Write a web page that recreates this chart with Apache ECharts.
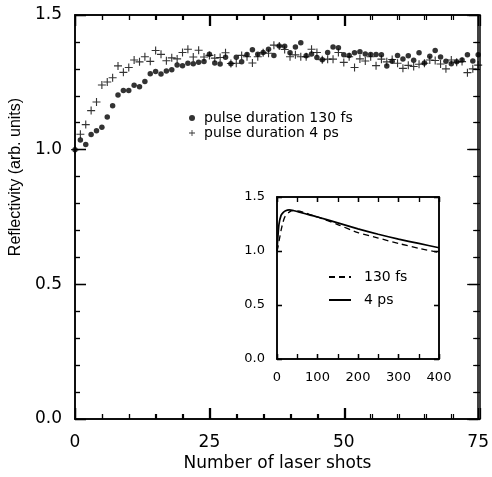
<!DOCTYPE html>
<html>
<head>
<meta charset="utf-8">
<script src="https://cdn.jsdelivr.net/npm/echarts@6/dist/echarts.min.js"></script>
<style>html,body{margin:0;padding:0;background:#fff}#c{width:492px;height:477px}</style>
</head>
<body>
<div id="c"></div>
<script>
// Main plot: reflectivity vs number of laser shots
var shots = [];
for (var i = 0; i <= 75; i++) shots.push(i);
var fs130 = [1.00,1.036,1.019,1.056,1.07,1.083,1.121,1.163,1.203,1.22,1.22,1.239,1.234,1.253,1.282,1.29,1.281,1.292,1.297,1.314,
  1.312,1.321,1.319,1.325,1.327,1.354,1.322,1.318,1.343,1.319,1.343,1.326,1.353,1.371,1.354,1.361,1.373,1.35,1.385,1.384,
  1.36,1.381,1.397,1.349,1.355,1.342,1.334,1.361,1.381,1.378,1.352,1.35,1.36,1.364,1.355,1.353,1.353,1.352,1.311,1.328,
  1.35,1.337,1.349,1.332,1.36,1.322,1.347,1.368,1.344,1.328,1.319,1.326,1.333,1.352,1.329,1.352];
var ps4 = [1.00,1.057,1.093,1.145,1.177,1.24,1.251,1.267,1.311,1.287,1.305,1.333,1.326,1.345,1.328,1.368,1.354,1.33,1.341,1.337,
  1.361,1.373,1.344,1.369,1.344,1.35,1.34,1.342,1.36,1.32,1.321,1.35,1.345,1.322,1.345,1.36,1.358,1.388,1.385,1.372,
  1.345,1.352,1.345,1.345,1.373,1.361,1.334,1.336,1.336,1.361,1.324,1.345,1.305,1.337,1.329,1.345,1.312,1.336,1.326,1.335,
  1.321,1.302,1.313,1.309,1.317,1.321,1.333,1.331,1.318,1.30,1.333,1.325,1.327,1.286,1.30,1.314];
// Inset curves
var insetX = [0,2,5,10,15,20,30,40,60,80,100,150,200,250,300,350,400];
var inset4ps = [1.0,1.12,1.25,1.33,1.355,1.37,1.38,1.375,1.355,1.335,1.315,1.26,1.205,1.155,1.11,1.07,1.03];
var inset130fs = [1.0,1.03,1.09,1.19,1.27,1.32,1.36,1.375,1.365,1.34,1.315,1.245,1.17,1.12,1.07,1.025,0.985];

function zip(a,b){return a.map(function(v,i){return [v,b[i]];});}

var FONT = 'DejaVu Sans';
var black = '#000';
var plusPath = 'path://M-0.14,-1 L0.14,-1 L0.14,-0.14 L1,-0.14 L1,0.14 L0.14,0.14 L0.14,1 L-0.14,1 L-0.14,0.14 L-1,0.14 L-1,-0.14 L-0.14,-0.14 Z';

function axis(o){
  var a = {
    type:'value', gridIndex: o.grid, position: o.pos, min: o.min, max: o.max, interval: o.interval,
    axisLine:{show:true, onZero:false, lineStyle:{color:black, width:1.5}},
    axisTick:{show:true, inside:true, length: o.tickLen, lineStyle:{color:black, width:1.3}},
    minorTick:{show:true, splitNumber: o.minor, length: o.minorLen, lineStyle:{color:black, width:1.2}},
    splitLine:{show:false},
    axisLabel:{show: !!o.label, color:black, fontFamily:FONT, fontSize: o.fontSize || 12, margin: o.margin || 8}
  };
  if (!o.minor) delete a.minorTick;
  if (o.fmt) a.axisLabel.formatter = o.fmt;
  return a;
}
var fmt1 = function(v){return v.toFixed(1);};

var MAIN = {left:75, top:15, width:405, height:404};
var INSET = {left:277, top:197, width:162, height:162};
function mx(g,pos,lab){return axis({grid:g,pos:pos,min:0,max:75,interval:25,tickLen:11,minor:5,minorLen:5,label:lab,fontSize:17,margin:15});}
function my(g,pos,lab){return axis({grid:g,pos:pos,min:0,max:1.5,interval:0.5,tickLen:11,minor:5,minorLen:5,label:lab,fontSize:17,margin:13,fmt:fmt1});}
function ix(g,pos,lab){return axis({grid:g,pos:pos,min:0,max:400,interval:100,tickLen:5,minor:2,minorLen:5,label:lab,fontSize:13,margin:12});}
function iy(g,pos,lab){return axis({grid:g,pos:pos,min:0,max:1.5,interval:0.5,tickLen:5,label:lab,fontSize:13,margin:12,fmt:fmt1});}

var option = {
  animation:false,
  grid:[
    MAIN,
    {left:INSET.left, top:INSET.top, width:INSET.width, height:INSET.height, show:true, borderWidth:0, backgroundColor:'#fff'},
    {left:MAIN.left, top:MAIN.top, width:MAIN.width, height:MAIN.height},
    {left:INSET.left, top:INSET.top, width:INSET.width, height:INSET.height}
  ],
  xAxis:[
    mx(0,'bottom',true), mx(0,'top',false),
    ix(1,'bottom',true), ix(1,'top',false),
    mx(2,'bottom',false), mx(2,'top',false),
    ix(3,'bottom',false), ix(3,'top',false)
  ],
  yAxis:[
    my(0,'left',true), my(0,'right',false),
    iy(1,'left',true), iy(1,'right',false),
    my(2,'left',false), my(2,'right',false),
    iy(3,'left',false), iy(3,'right',false)
  ],
  legend:[
    {data:['pulse duration 130 fs','pulse duration 4 ps'], orient:'vertical', left:184, top:106, itemGap:1,
     itemWidth:6, itemHeight:6, textStyle:{fontFamily:FONT, fontSize:14, lineHeight:14, color:black, padding:[0,0,0,4]}},
    {data:['130 fs','4 ps'], orient:'vertical', left:323, top:265, itemGap:9,
     itemWidth:22, itemHeight:14, itemStyle:{color:'transparent', borderColor:'transparent', borderWidth:0},
     textStyle:{fontFamily:FONT, fontSize:14, lineHeight:14, color:black, padding:[0,0,0,8]}}
  ],
  series:[
    {name:'pulse duration 130 fs', type:'scatter', xAxisIndex:0, yAxisIndex:0, data: zip(shots, fs130),
     symbol:'circle', symbolSize:5.5, itemStyle:{color:black}},
    {name:'pulse duration 4 ps', type:'scatter', xAxisIndex:0, yAxisIndex:0, data: zip(shots, ps4),
     symbol:plusPath, symbolSize:8, itemStyle:{color:black}},
    {name:'130 fs', type:'line', xAxisIndex:2, yAxisIndex:2, data: zip(insetX, inset130fs), smooth:0.2,
     symbol:'none', lineStyle:{color:black, width:1.3, type:[6,4]}, itemStyle:{color:black}},
    {name:'4 ps', type:'line', xAxisIndex:2, yAxisIndex:2, data: zip(insetX, inset4ps), smooth:0.2,
     symbol:'none', lineStyle:{color:black, width:1.7}, itemStyle:{color:black}}
  ],
  graphic:[
    {type:'text', x:16, y:177, rotation:Math.PI/2,
     style:{text:'Reflectivity (arb. units)', fontFamily:'Liberation Sans', fontSize:16, fill:black, textAlign:'center', textVerticalAlign:'middle'}},
    {type:'text', x:277.5, y:464,
     style:{text:'Number of laser shots', fontFamily:FONT, fontSize:17, fill:black, textAlign:'center', textVerticalAlign:'middle'}}
  ]
};
var chart = echarts.init(document.getElementById('c'));
chart.setOption(option);
</script>
</body>
</html>
